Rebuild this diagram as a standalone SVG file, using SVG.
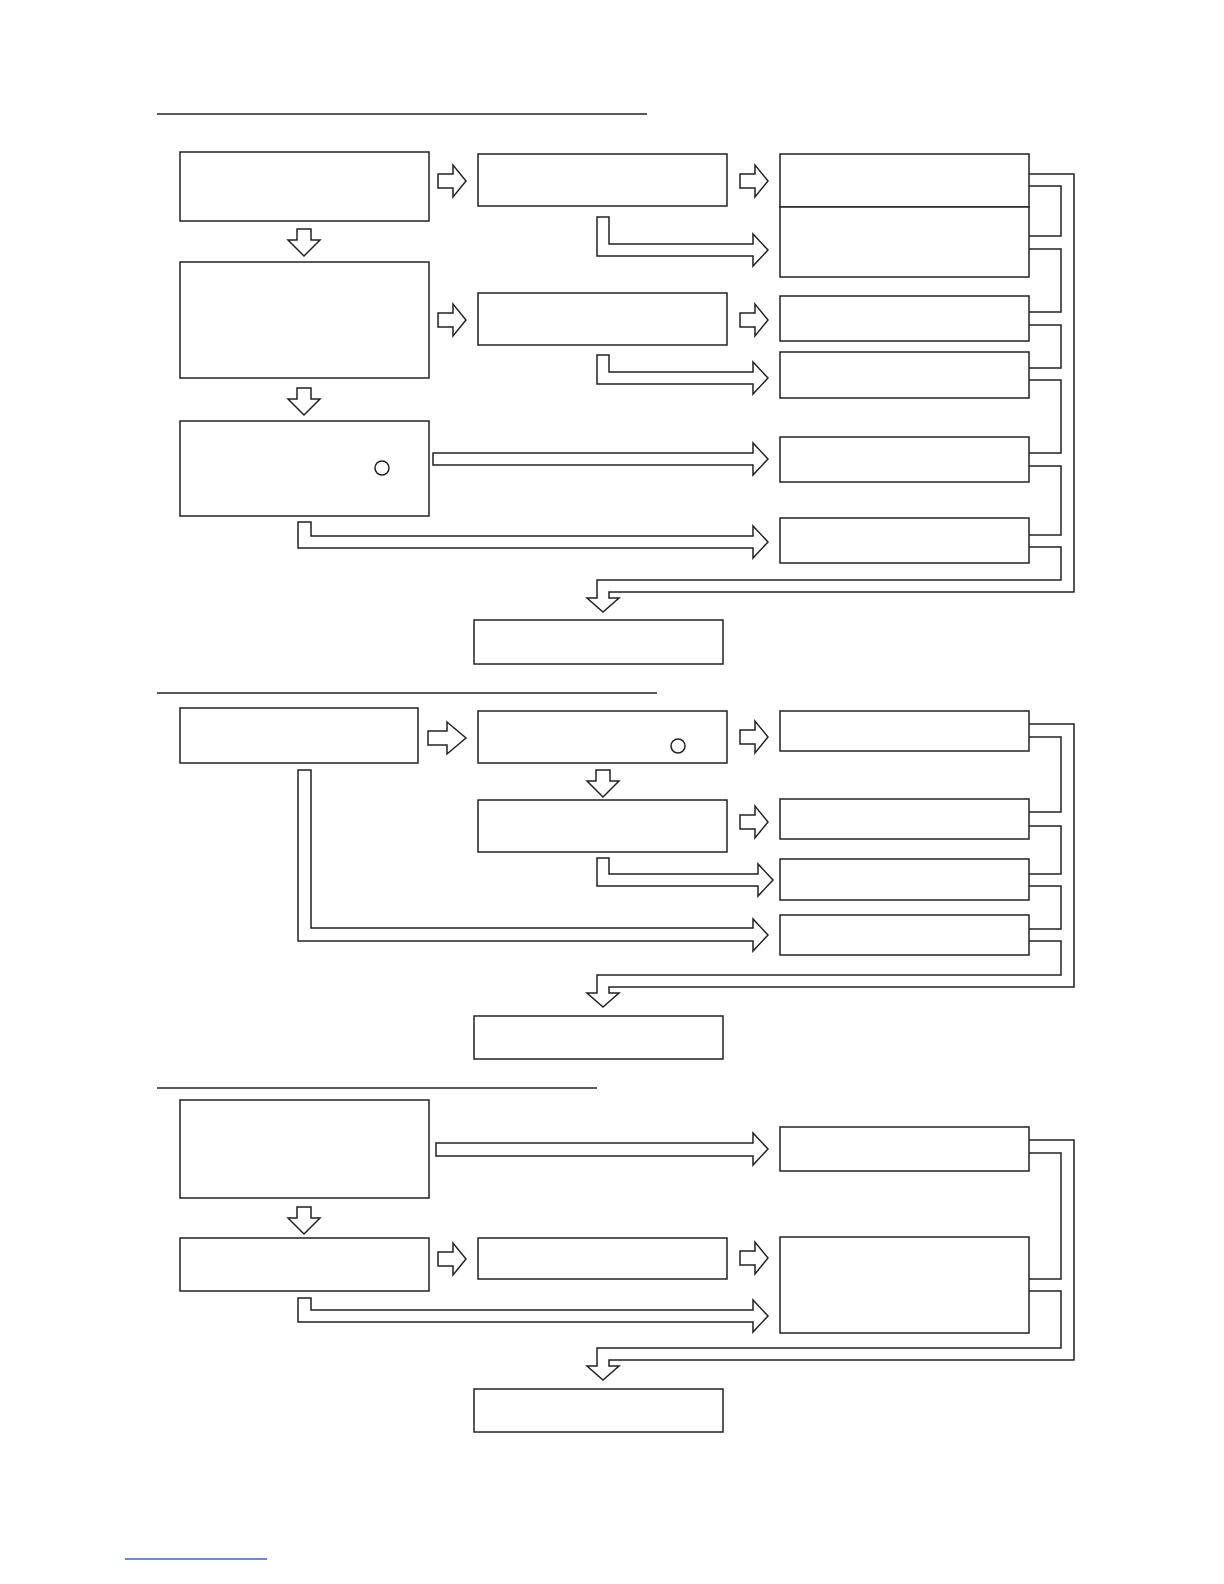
<svg xmlns="http://www.w3.org/2000/svg" width="1224" height="1584" viewBox="0 0 1224 1584">
<style>
rect,polygon,polyline,circle,.a{fill:#fff;stroke:#222;stroke-width:1.5}
polyline{fill:none}
line{stroke:#222;stroke-width:1.5}
</style>
<defs>
<polygon id="ra" points="0,-7 15,-7 15,-16 28,0 15,16 15,7 0,7"/>
<polygon id="da" points="-7,0 -7,11 -16,11 0,27 16,11 7,11 7,0"/>
</defs>
<rect x="0" y="0" width="1224" height="1584" style="stroke:none"/>
<line x1="157" y1="114" x2="647" y2="114"/>
<line x1="157" y1="693" x2="657" y2="693"/>
<line x1="157" y1="1088" x2="597" y2="1088"/>
<line x1="125" y1="1559" x2="267" y2="1559" style="stroke:#4060c0"/>
<g id="s1">
<g id="A"><rect x="180" y="152" width="249" height="69"/></g>
<g id="B"><rect x="180" y="262" width="249" height="116"/></g>
<g id="C"><rect x="180" y="421" width="249" height="95"/><circle cx="382" cy="468" r="7"/></g>
<g id="D"><rect x="478" y="154" width="249" height="52"/></g>
<g id="E"><rect x="478" y="293" width="249" height="52"/></g>
<g id="R1"><rect x="780" y="154" width="249" height="53"/></g>
<g id="R2"><rect x="780" y="207" width="249" height="70"/></g>
<g id="R3"><rect x="780" y="296" width="249" height="45"/></g>
<g id="R4"><rect x="780" y="352" width="249" height="46"/></g>
<g id="R5"><rect x="780" y="437" width="249" height="45"/></g>
<g id="R6"><rect x="780" y="518" width="249" height="45"/></g>
<g id="Z1"><rect x="474" y="620" width="249" height="44"/></g>
</g>
<g id="s2">
<g id="F"><rect x="180" y="708" width="238" height="55"/></g>
<g id="G"><rect x="478" y="711" width="249" height="52"/><circle cx="678" cy="746" r="7"/></g>
<g id="H"><rect x="478" y="800" width="249" height="52"/></g>
<g id="S1"><rect x="780" y="711" width="249" height="40"/></g>
<g id="S2"><rect x="780" y="799" width="249" height="40"/></g>
<g id="S3"><rect x="780" y="859" width="249" height="41"/></g>
<g id="S4"><rect x="780" y="915" width="249" height="40"/></g>
<g id="Z2"><rect x="474" y="1016" width="249" height="43"/></g>
</g>
<g id="s3">
<g id="I"><rect x="180" y="1100" width="249" height="98"/></g>
<g id="J"><rect x="180" y="1238" width="249" height="53"/></g>
<g id="K"><rect x="478" y="1238" width="249" height="41"/></g>
<g id="T1"><rect x="780" y="1127" width="249" height="44"/></g>
<g id="T2"><rect x="780" y="1237" width="249" height="96"/></g>
<g id="Z3"><rect x="474" y="1389" width="249" height="43"/></g>
</g>
<g id="connectors">
<use href="#ra" x="438" y="181"/>
<use href="#ra" x="740" y="181"/>
<use href="#ra" x="438" y="320"/>
<use href="#ra" x="740" y="320"/>
<use href="#da" x="304" y="229"/>
<use href="#da" x="304" y="388"/>
<polygon points="597,217 609,217 609,244 753,244 753,234 768,250 753,266 753,256 597,256"/>
<polygon points="597,355 609,355 609,372 753,372 753,362 768,378 753,394 753,384 597,384"/>
<polygon points="433,453 753,453 753,443 768,459 753,475 753,465 433,465"/>
<polygon points="298,522 311,522 311,536 753,536 753,526 768,542 753,558 753,548 298,548"/>
<polyline points="1029,174 1074,174 1074,592 609,592 609,598 619,598 603,612 587,598 597,598 597,580 1061,580 1061,547 1029,547"/>
<polyline points="1029,186 1061,186 1061,236 1029,236"/>
<polyline points="1029,249 1061,249 1061,312 1029,312"/>
<polyline points="1029,325 1061,325 1061,368 1029,368"/>
<polyline points="1029,380 1061,380 1061,453 1029,453"/>
<polyline points="1029,466 1061,466 1061,535 1029,535"/>

<polygon points="428,731 447,731 447,722 466,738 447,754 447,745 428,745"/>
<use href="#ra" x="740" y="737"/>
<use href="#da" x="603" y="770"/>
<use href="#ra" x="740" y="822"/>
<polygon points="597,858 609,858 609,874 758,874 758,864 773,880 758,896 758,886 597,886"/>
<polygon points="298,770 311,770 311,928 753,928 753,919 768,935 753,951 753,941 298,941"/>
<polyline points="1029,724 1074,724 1074,987 609,987 609,993 619,993 603,1007 587,993 597,993 597,975 1061,975 1061,941 1029,941"/>
<polyline points="1029,737 1061,737 1061,812 1029,812"/>
<polyline points="1029,826 1061,826 1061,874 1029,874"/>
<polyline points="1029,886 1061,886 1061,929 1029,929"/>

<polygon points="436,1143 753,1143 753,1133 768,1149 753,1165 753,1156 436,1156"/>
<use href="#da" x="304" y="1207"/>
<use href="#ra" x="438" y="1259"/>
<use href="#ra" x="740" y="1258"/>
<polygon points="298,1298 311,1298 311,1310 753,1310 753,1300 768,1316 753,1332 753,1322 298,1322"/>
<polyline points="1029,1140 1074,1140 1074,1360 609,1360 609,1366 619,1366 603,1380 587,1366 597,1366 597,1348 1061,1348 1061,1291 1029,1291"/>
<polyline points="1029,1153 1061,1153 1061,1279 1029,1279"/>
</g>
</svg>
